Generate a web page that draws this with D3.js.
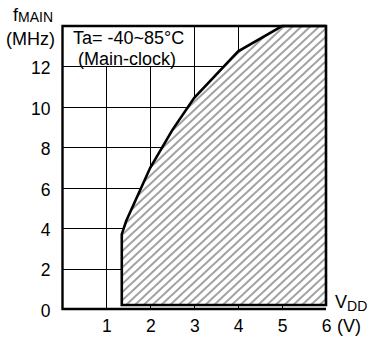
<!DOCTYPE html>
<html>
<head>
<meta charset="utf-8">
<script src="https://cdn.jsdelivr.net/npm/d3@7"></script>
<style>
  html, body { margin: 0; padding: 0; background: #fff; }
  svg { display: block; font-family: "Liberation Sans", Arial, sans-serif; }
</style>
</head>
<body>
<svg id="chart" width="369" height="342"></svg>
<script>
// Operating region: supply voltage (V) vs main clock frequency (MHz)
const xTicks = [1, 2, 3, 4, 5, 6];
const yTicks = [0, 2, 4, 6, 8, 10, 12];
const xGrid = [1, 2, 3, 4, 5];
const yGrid = [2, 4, 6, 8, 10, 12];
const regionVdd  = [1.35, 1.35, 1.45, 2.0, 2.5,  3.0,  4.0,  5.0, 6.0, 6.0];
const regionFreq = [0.2,  3.7,  4.35, 7.0, 8.85, 10.45, 12.75, 14, 14,  0.2];
const tempLabel = "Ta= -40~85°C";
const clockLabel = "(Main-clock)";

const svg = d3.select("#chart");
const x = d3.scaleLinear().domain([0, 6]).range([62.5, 326]);
const y = d3.scaleLinear().domain([0, 14]).range([309, 26]);

// hatch pattern
const defs = svg.append("defs");
const pat = defs.append("pattern")
  .attr("id", "hatch")
  .attr("patternUnits", "userSpaceOnUse")
  .attr("width", 20).attr("height", 6)
  .attr("patternTransform", "rotate(-43)");
pat.append("line")
  .attr("x1", 0).attr("x2", 20).attr("y1", 3).attr("y2", 3)
  .attr("stroke", "#444").attr("stroke-width", 1);

// grid
const grid = svg.append("g").attr("stroke", "#000").attr("stroke-width", 1).attr("shape-rendering", "crispEdges");
grid.selectAll("line.v").data(xGrid).join("line").attr("class", "v")
  .attr("x1", d => Math.round(x(d)) + 0.5).attr("x2", d => Math.round(x(d)) + 0.5)
  .attr("y1", y(0)).attr("y2", y(14));
grid.selectAll("line.h").data(yGrid).join("line").attr("class", "h")
  .attr("x1", x(0)).attr("x2", x(6))
  .attr("y1", d => Math.round(y(d)) + 0.5).attr("y2", d => Math.round(y(d)) + 0.5);

// condition label box
svg.append("rect")
  .attr("x", x(0)).attr("y", y(14))
  .attr("width", x(3) - x(0) + 0.5).attr("height", y(12) - y(14) + 0.5)
  .attr("fill", "#fff").attr("stroke", "#000").attr("stroke-width", 1)
  .attr("shape-rendering", "crispEdges");

// operating region
const pts = regionVdd.map((v, i) => [v, regionFreq[i]]);
const line = d3.line().x(d => x(d[0])).y(d => y(d[1]));
svg.append("path")
  .attr("d", line(pts) + "Z")
  .attr("fill", "#fff");
svg.append("path")
  .attr("d", line(pts) + "Z")
  .attr("fill", "url(#hatch)")
  .attr("stroke", "#000").attr("stroke-width", 2.6)
  .attr("stroke-linejoin", "miter");

// axes frame
const frame = svg.append("g").attr("stroke", "#000").attr("stroke-width", 2.4).attr("fill", "none");
frame.append("path").attr("d", `M${x(6)},${y(14)} H${x(0)} V${y(0)} H${x(6)}`);

// x axis
const xAxis = d3.axisBottom(x).tickValues(xTicks).tickFormat(d3.format("d")).tickSize(0).tickPadding(11);
const gx = svg.append("g").attr("transform", `translate(0,${y(0)})`).call(xAxis);
gx.select(".domain").remove();
gx.selectAll("text").attr("font-size", 17.5).attr("fill", "#000")
  .attr("font-family", "Liberation Sans, Arial, sans-serif");

// y axis
const yAxis = d3.axisLeft(y).tickValues(yTicks).tickFormat(d3.format("d")).tickSize(0).tickPadding(12);
const gy = svg.append("g").attr("transform", `translate(${x(0)},0)`).call(yAxis);
gy.select(".domain").remove();
gy.selectAll("text").attr("font-size", 17.5).attr("fill", "#000").attr("dy", "0.42em")
  .attr("font-family", "Liberation Sans, Arial, sans-serif");

// axis titles
const yt = svg.append("text").attr("x", 13).attr("y", 21).attr("font-size", 18);
yt.append("tspan").text("f");
yt.append("tspan").attr("font-size", 14).attr("dy", 1).text("MAIN");
svg.append("text").attr("x", 6).attr("y", 45).attr("font-size", 18).text("(MHz)");

const xt = svg.append("text").attr("x", 335).attr("y", 308).attr("font-size", 18);
xt.append("tspan").text("V");
xt.append("tspan").attr("font-size", 14).attr("dy", 3).text("DD");
svg.append("text").attr("x", 337).attr("y", 332).attr("font-size", 18).text("(V)");

// condition text
svg.append("text").attr("x", 73).attr("y", 44).attr("font-size", 18).text(tempLabel);
svg.append("text").attr("x", 78).attr("y", 64.5).attr("font-size", 18).text(clockLabel);
</script>
</body>
</html>
